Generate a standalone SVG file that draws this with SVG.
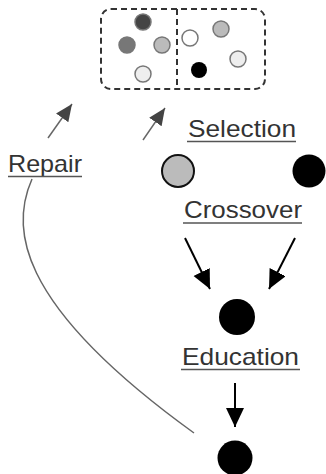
<svg xmlns="http://www.w3.org/2000/svg" width="326" height="474" viewBox="0 0 326 474">
<style>
.lbl{font-family:"Liberation Sans",Arial,sans-serif;font-size:24px;fill:#333}
.ul{stroke:#555;stroke-width:1.5}
.dot{stroke:#777;stroke-width:1.5}
.box{fill:none;stroke:#333;stroke-width:2;stroke-dasharray:6 4}
.garrow{stroke:#666;stroke-width:1.5;fill:none}
.barrow{stroke:#000;stroke-width:2;fill:none}
</style>
<defs>
<marker id="ag" markerUnits="userSpaceOnUse" markerWidth="18" markerHeight="16" refX="17" refY="7.5" orient="auto">
<path d="M0,0 L17,7.5 L0,15 z" fill="#444"/>
</marker>
<marker id="ab" markerUnits="userSpaceOnUse" markerWidth="20" markerHeight="20" refX="19" refY="9" orient="auto">
<path d="M0,0 L19,9 L0,18 z" fill="#000"/>
</marker>
</defs>
<g id="population">
<rect class="box" x="101" y="9" width="164" height="80" rx="10"/>
<line class="box" x1="177" y1="9" x2="177" y2="89"/>
<circle class="dot" cx="143" cy="22" r="8" fill="#444" stroke="#333"/>
<circle class="dot" cx="127" cy="45" r="8" fill="#777" stroke="#666"/>
<circle class="dot" cx="162" cy="45" r="8" fill="#bbb"/>
<circle class="dot" cx="143" cy="74" r="8" fill="#eee"/>
<circle class="dot" cx="190" cy="38" r="8" fill="#fff"/>
<circle class="dot" cx="221" cy="29" r="8" fill="#bbb"/>
<circle class="dot" cx="238" cy="59" r="8" fill="#eee"/>
<circle cx="199" cy="70" r="8" fill="#000"/>
</g>
<g id="repair">
<text class="lbl" x="8" y="172" textLength="74" lengthAdjust="spacingAndGlyphs">Repair</text>
<line class="ul" x1="8" y1="176.5" x2="82" y2="176.5"/>
</g>
<g id="selection">
<text class="lbl" x="188" y="137" textLength="108" lengthAdjust="spacingAndGlyphs">Selection</text>
<line class="ul" x1="187" y1="141.5" x2="296" y2="141.5"/>
</g>
<g id="parent1"><circle cx="178" cy="171" r="16" fill="#bbb" stroke="#111" stroke-width="2"/></g>
<g id="parent2"><circle cx="309" cy="171" r="16.5" fill="#000"/></g>
<g id="crossover">
<text class="lbl" x="184" y="218" textLength="118" lengthAdjust="spacingAndGlyphs">Crossover</text>
<line class="ul" x1="183" y1="223" x2="302" y2="223"/>
</g>
<g id="child"><circle cx="237" cy="317" r="18" fill="#000"/></g>
<g id="education">
<text class="lbl" x="182" y="365" textLength="117" lengthAdjust="spacingAndGlyphs">Education</text>
<line class="ul" x1="181" y1="369.5" x2="300" y2="369.5"/>
</g>
<g id="educated"><circle cx="235" cy="458" r="17.5" fill="#000"/></g>
<g id="connectors">
<line class="garrow" x1="48" y1="138" x2="72" y2="104" marker-end="url(#ag)"/>
<line class="garrow" x1="143" y1="140" x2="165" y2="108" marker-end="url(#ag)"/>
<line class="barrow" x1="185" y1="238" x2="210" y2="289" marker-end="url(#ab)"/>
<line class="barrow" x1="295" y1="238" x2="269" y2="289" marker-end="url(#ab)"/>
<line class="barrow" x1="235" y1="383" x2="235" y2="427" marker-end="url(#ab)"/>
<path class="garrow" d="M32,179 C12,224 10,300 194,433" stroke="#777"/>
</g>
</svg>
